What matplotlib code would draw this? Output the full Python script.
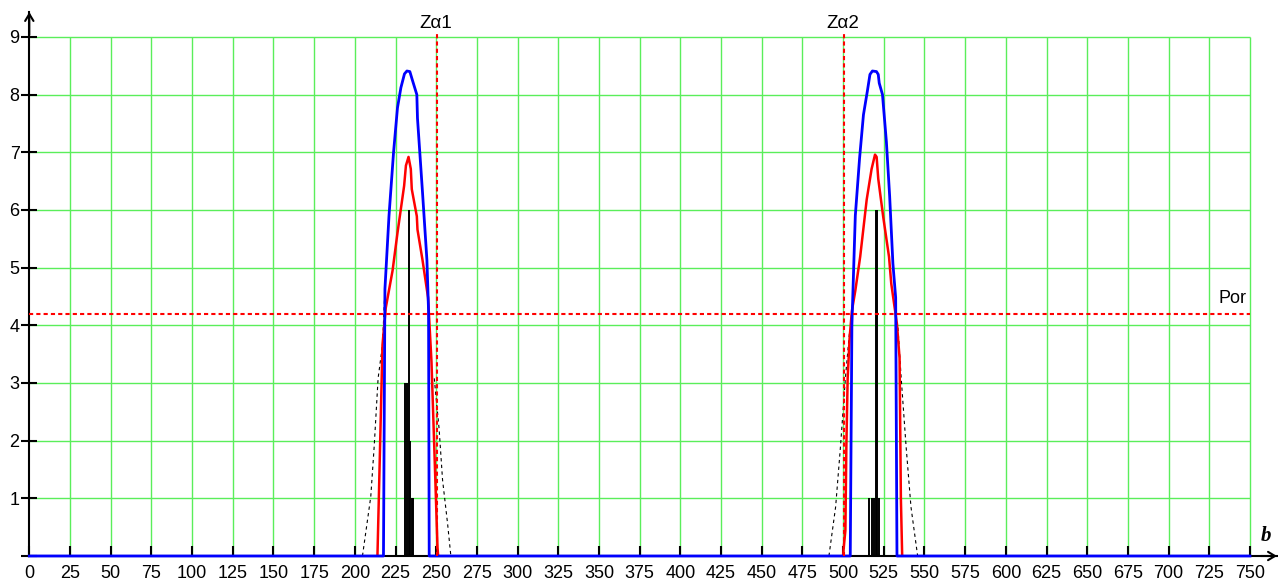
import numpy as np
import matplotlib
matplotlib.use('Agg')
import matplotlib.pyplot as plt

plt.rcParams['font.family'] = ['Liberation Sans', 'DejaVu Sans']

nan = np.nan

# blue curve (zero baseline with two peaks)
blue_b = [0, 217.6, 218.5, 221.0, 223.8, 226.2, 228.3, 230.5, 232.0, 233.8, 235.5, 238.1, 238.5,
          241.6, 244.3, 245.3, 245.7,
          504.4, 505.4, 507.5, 510.1, 512.5, 514.9, 516.5, 518.0, 520.5, 521.6, 522.2, 524.2,
          526.6, 528.6, 530.6, 532.3, 533.1, 750]
blue_v = [0, 0, 4.63, 5.9, 7.0, 7.77, 8.12, 8.36, 8.41, 8.4, 8.24, 8.0, 7.59,
          6.3, 5.13, 4.25, 0,
          0, 4.0, 5.9, 6.89, 7.65, 8.06, 8.35, 8.41, 8.4, 8.35, 8.2, 8.0,
          7.18, 6.24, 5.07, 4.48, 0, 0]

# red curve
red_b = [213.9, 217.0, 219.0, 223.2, 226.2, 230.3, 231.4, 233.0, 234.4, 235.0, 238.1, 238.5,
         241.6, 245.0, 247.1, 248.8, 250.8, 251.2, nan,
         500.0, 500.4, 501.4, 502.0, 502.8, 504.0, 505.4, 507.5, 510.5, 514.5, 517.5, 519.6,
         520.6, 521.6, 524.6, 528.2, 529.6, 533.1, 534.7, 535.5, 536.3]
red_v = [0, 3.66, 4.3, 4.95, 5.6, 6.42, 6.77, 6.92, 6.71, 6.36, 5.89, 5.66,
         5.13, 4.48, 3.37, 1.9, 0.15, 0, nan,
         0, 0.15, 0.44, 1.9, 3.08, 3.78, 4.25, 4.6, 5.19, 6.18, 6.71, 6.96,
         6.92, 6.54, 5.89, 5.19, 4.72, 4.02, 3.43, 1.0, 0]

# thin dashed black curve (visible parts)
dash_b = [204.7, 209.8, 211.9, 214.3, 217.0, 218.4, nan, 248.8, 251.8, 253.9, 257.0, 259.0, nan,
          491.3, 495.4, 498.4, 501.4, 504.0, nan, 533.7, 535.7, 538.7, 541.7, 545.8]
dash_v = [0, 1.03, 1.9, 3.08, 3.66, 4.57, nan, 3.08, 2.2, 1.32, 0.56, 0, nan,
          0, 0.85, 1.9, 3.08, 3.9, nan, 3.96, 3.08, 1.9, 0.85, 0]

# black bars
bar_b = [231, 232, 233, 234, 235, 236, 516, 518, 519, 520, 521, 522]
bar_v = [3, 3, 6, 2, 1, 1, 1, 1, 1, 6, 6, 1]

z_pos = [250.5, 500.5]
z_txt_pos = [250, 500]
z_labels = ['Z\u03b11', 'Z\u03b12']
por = 4.2

x_ticks = np.arange(0, 751, 25)
y_ticks = list(range(10))

fig = plt.figure(figsize=(12.78, 5.8), dpi=100)
ax = fig.add_axes([29.3 / 1278, 24 / 580, 1247.7 / 1278, 544 / 580])
xmax = 1247.7 / 1.6276
ymax = 544 / 57.67
ax.set_xlim(0, xmax)
ax.set_ylim(0, ymax)

# grid
green = '#5aee5a'
ax.vlines(x_ticks[1:], 0, 9, color=green, lw=1, zorder=1)
ax.hlines(y_ticks[1:], 0, 750, color=green, lw=1, zorder=1)

# threshold and Z lines
ax.hlines(por, 0, 750, color='red', lw=1.5, linestyles=(0, (2, 1.5)), zorder=4)
ax.text(748, por + 0.12, 'Por', ha='right', va='bottom', fontsize=13)
for zp, tp, lab in zip(z_pos, z_txt_pos, z_labels):
    ax.vlines(zp, 0, 9.05, color='red', lw=1.5, linestyles=(0, (2, 1.5)), zorder=4)
    ax.text(tp, 9.24, lab, ha='center', va='center', fontsize=13.5)

ax.plot(dash_b, dash_v, color='black', lw=0.8, ls=(0, (3, 3)), zorder=2)
ax.vlines(bar_b, 0, bar_v, color='black', lw=1.4, zorder=2)
ax.plot(red_b, red_v, color='red', lw=1.8, zorder=3)
ax.plot(blue_b, blue_v, color='blue', lw=2.0, zorder=3, clip_on=False)

# axes
for s in ['top', 'right']:
    ax.spines[s].set_visible(False)
for s in ['left', 'bottom']:
    ax.spines[s].set_linewidth(1.5)
    ax.spines[s].set_color('black')

ax.set_xticks(x_ticks)
ax.set_xticklabels([str(t) for t in x_ticks])
ax.set_yticks(y_ticks)
ax.set_yticklabels([''] + [str(t) for t in y_ticks[1:]])
ax.tick_params(axis='x', direction='in', length=7, width=1.5, pad=6.5, labelsize=13)
ax.tick_params(axis='y', direction='inout', length=12, width=1.5, pad=1, labelsize=13)

arr = dict(arrowstyle='->,head_length=0.5,head_width=0.3', lw=1.5, color='black',
           shrinkA=0, shrinkB=0)
ax.annotate('', xy=(0, ymax), xytext=(0, ymax - 0.4), arrowprops=arr, annotation_clip=False)
ax.annotate('', xy=(xmax, 0), xytext=(xmax - 10, 0), arrowprops=arr, annotation_clip=False)
ax.text(760, 0.18, 'b', family='Liberation Serif', style='italic', weight='bold',
        fontsize=15, ha='center', va='bottom')

fig.savefig('out.png', dpi=100)
